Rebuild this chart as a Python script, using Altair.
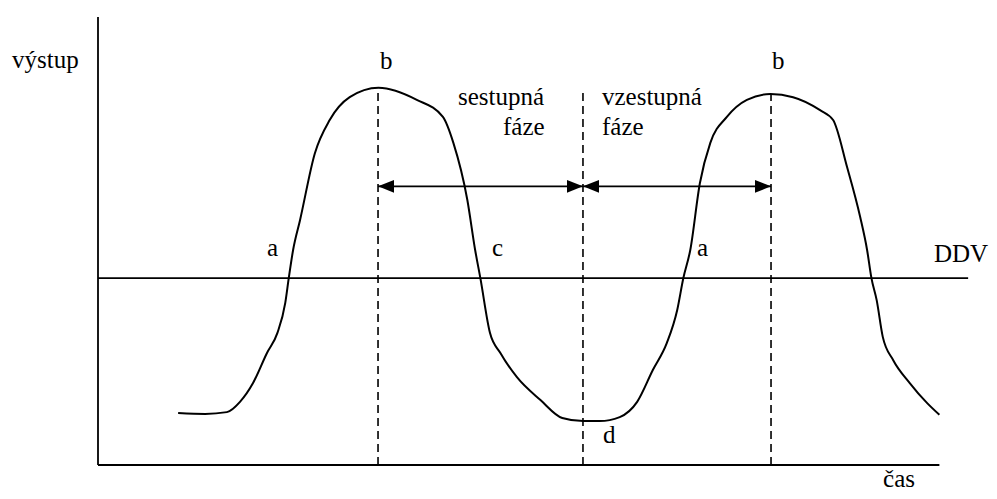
import altair as alt
import pandas as pd

# ---- data (time units 0-100 on x, output units 0-100 on y) ----
cycle_t = [9.2, 12.3, 14.8, 16.3, 17.8, 19.4, 20.6, 21.5, 21.9, 22.4, 23.2, 24.9, 26.6,
           28.9, 32.2, 36.6, 39.6, 40.8, 42.4, 43.3, 43.9, 45.0, 46.2, 48.1, 50.8,
           53.3, 55.7, 57.6, 59.9, 61.9, 63.7, 65.3, 66.5, 67.2, 68.0, 69.1, 70.3,
           72.2, 74.5, 77.2, 79.8, 82.9, 84.4, 86.0, 87.5, 88.3, 88.8, 89.4, 90.1,
           91.3, 93.2, 95.2, 96.6]
cycle_v = [11.6, 11.4, 11.8, 14.1, 18.3, 25.0, 29.5, 36.2, 41.7, 48.0, 54.7, 69.6, 77.0,
           82.1, 84.2, 81.5, 77.7, 71.9, 59.2, 48.0, 41.7, 29.5, 25.0, 19.6, 14.5,
           10.5, 9.8, 9.8, 10.7, 14.1, 21.2, 27.2, 34.6, 41.7, 48.0, 62.9, 71.9,
           77.7, 81.5, 82.8, 82.1, 79.2, 77.0, 66.5, 55.4, 48.0, 41.7, 36.8, 28.6,
           23.4, 18.3, 13.8, 11.2]

dash_t = [32.15, 55.68, 77.27]
dash_top = [84.2, 83.7, 82.8]

ddv_level = [41.7]
ddv_end = [99.9]
axis_x_end = [96.6]
axis_y_end = [100.0]

arrow_level = 62.2
arrow_from = [32.15, 55.68]
arrow_to = [55.68, 77.27]

label_text = ["výstup", "b", "b", "sestupná", "fáze", "vzestupná", "fáze",
              "a", "c", "a", "DDV", "d", "čas"]
label_t = [-9.87, 32.38, 77.38, 41.33, 46.50, 57.86, 57.86,
           19.40, 45.23, 68.77, 95.98, 57.98, 90.13]
label_v = [88.6, 88.4, 88.4, 80.4, 73.7, 80.4, 73.7,
           46.65, 46.65, 46.65, 45.3, 4.9, -4.9]

# ---- tables ----
curve_df = pd.DataFrame({"t": cycle_t, "v": cycle_v, "i": range(len(cycle_t))})
dash_df = pd.DataFrame({"t": dash_t, "top": dash_top, "bottom": [0] * len(dash_t)})
hline_df = pd.DataFrame({"t0": [0, 0], "t1": [ddv_end[0], axis_x_end[0]],
                         "v": [ddv_level[0], 0]})
vaxis_df = pd.DataFrame({"t": [0], "v0": [0], "v1": axis_y_end})
arrow_df = pd.DataFrame({"a": arrow_from, "b": arrow_to, "v": [arrow_level] * 2})
head_left_df = pd.DataFrame({"t": arrow_from, "v": [arrow_level] * 2})
head_right_df = pd.DataFrame({"t": arrow_to, "v": [arrow_level] * 2})
label_df = pd.DataFrame({"t": label_t, "v": label_v, "label": label_text})

xs = alt.Scale(domain=[0, 100], nice=False, zero=False)
ys = alt.Scale(domain=[0, 100], nice=False, zero=False)
X = lambda f: alt.X(f, type="quantitative", scale=xs, axis=None)
Y = lambda f: alt.Y(f, type="quantitative", scale=ys, axis=None)

SW = 1.8
SERIF = "Liberation Serif"

curve = alt.Chart(curve_df).mark_line(color="black", strokeWidth=2, interpolate="monotone").encode(
    x=X("t"), y=Y("v"), order=alt.Order("i:Q"))

dashes = alt.Chart(dash_df).mark_rule(color="black", strokeWidth=1.6, strokeDash=[8, 5]).encode(
    x=X("t"), y=Y("bottom"), y2="top")

hlines = alt.Chart(hline_df).mark_rule(color="black", strokeWidth=SW).encode(
    x=X("t0"), x2="t1", y=Y("v"))

vaxis = alt.Chart(vaxis_df).mark_rule(color="black", strokeWidth=SW).encode(
    x=X("t"), y=Y("v0"), y2="v1")

arrows = alt.Chart(arrow_df).mark_rule(color="black", strokeWidth=SW).encode(
    x=X("a"), x2="b", y=Y("v"))

head_left = alt.Chart(head_left_df).mark_point(
    shape="M0,0 L1,-0.4 L1,0.4 Z", size=1024, filled=True, color="black", opacity=1
).encode(x=X("t"), y=Y("v"))

head_right = alt.Chart(head_right_df).mark_point(
    shape="M0,0 L-1,-0.4 L-1,0.4 Z", size=1024, filled=True, color="black", opacity=1
).encode(x=X("t"), y=Y("v"))

labels = alt.Chart(label_df).mark_text(
    align="left", baseline="alphabetic", font=SERIF, fontSize=25, color="black"
).encode(x=X("t"), y=Y("v"), text=alt.Text("label:N"))

chart = alt.layer(
    vaxis, hlines, dashes, arrows, head_left, head_right, curve, labels
).properties(
    width=871, height=448,
    padding={"left": 90, "top": 9, "right": 20, "bottom": 26},
    autosize=alt.AutoSizeParams(type="none"),
).configure(font=SERIF).configure_text(font=SERIF).configure_view(strokeWidth=0)

chart.save("out.html", embed_options={"renderer": "svg", "actions": False})
